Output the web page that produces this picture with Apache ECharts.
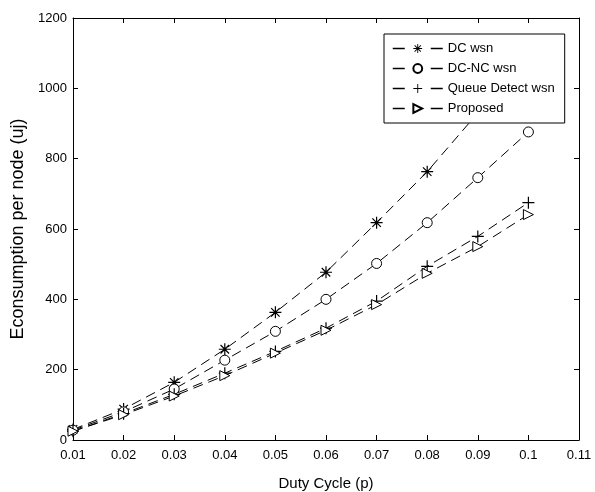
<!DOCTYPE html>
<html>
<head>
<meta charset="utf-8">
<script src="https://cdn.jsdelivr.net/npm/echarts@6/dist/echarts.min.js"></script>
<style>
html,body{margin:0;padding:0;background:#fff;}
#chart{width:595px;height:492px;}
</style>
</head>
<body>
<div id="chart"></div>
<script>
var dutyCycle = [0.01, 0.02, 0.03, 0.04, 0.05, 0.06, 0.07, 0.08, 0.09, 0.10];
var dcWsn     = [30, 88, 164, 258, 363, 477, 618, 763, 930, 1112];
var dcNcWsn   = [28, 80, 145, 227, 309, 400, 502, 618, 746, 876];
var queueWsn  = [25, 75, 130, 190, 252, 318, 395, 494, 579, 675];
var proposed  = [25, 72, 125, 183, 247, 312, 385, 474, 550, 641];
var seriesNames = ['DC wsn', 'DC-NC wsn', 'Queue Detect wsn', 'Proposed'];

function pairs(ys){ return dutyCycle.map(function(x,i){ return [x, ys[i]]; }); }

var STAR = 'path://M-10,-1 L10,-1 L10,1 L-10,1 Z M-1,-10 L1,-10 L1,10 L-1,10 Z M-7.78,-6.36 L-6.36,-7.78 L7.78,6.36 L6.36,7.78 Z M7.78,-6.36 L-6.36,7.78 L-7.78,6.36 L6.36,-7.78 Z';
var PLUS = 'path://M-1,-10 L1,-10 L1,-1 L10,-1 L10,1 L1,1 L1,10 L-1,10 L-1,1 L-10,1 L-10,-1 L-1,-1 Z';
var TRI = 'path://M-8,-8 L8,0 L-8,8 Z';

var FONT = 'Liberation Sans';
var chart = echarts.init(document.getElementById('chart'), null, {renderer:'canvas'});

function mk(name, data, symbol, size, filled){
  return {
    name: name, type: 'line', data: pairs(data),
    symbol: symbol, symbolSize: size, showSymbol: true,
    lineStyle: {color:'#000', width:1, type:[10,6]},
    itemStyle: filled ? {color:'#000', borderWidth:0} : {color:'#fff', borderColor:'#000', borderWidth:1},
    emphasis: {disabled:true},
    animation: false,
    z: 2
  };
}

var tickFmt = function(v){ return parseFloat(v.toFixed(2)).toString(); };
var yFmt = function(v){ return String(Math.round(v)); };

chart.setOption({
  animation: false,
  backgroundColor: '#fff',
  grid: {left:73, right:16, top:18, bottom:52, show:false, containLabel:false, outerBoundsMode:'none'},
  legend: {
    orient: 'vertical', left: 384, top: 34,
    width: 180,
    padding: [8, 10, 8, 8],
    itemWidth: 50, itemHeight: 11, itemGap: 7,
    backgroundColor: '#fff', borderColor: '#000', borderWidth: 1,
    lineStyle: {width: 1.5, type: [12, 26]},
    textStyle: {fontFamily: FONT, fontSize: 13, color: '#000', padding:[0,0,0,0]},
    data: seriesNames,
    z: 10
  },
  xAxis: [{
    type: 'value', min: 0.01, max: 0.11, interval: 0.01,
    name: 'Duty Cycle (p)', nameLocation: 'middle', nameGap: 36,
    nameTextStyle: {fontFamily: FONT, fontSize: 15, color:'#000'},
    axisLine: {show:true, onZero:false, lineStyle:{color:'#000', width:1}},
    axisTick: {show:true, inside:true, length:5, lineStyle:{color:'#000'}},
    axisLabel: {fontFamily: FONT, fontSize: 13, color:'#000', margin: 9, formatter: tickFmt},
    splitLine: {show:false}
  },{
    type: 'value', min: 0.01, max: 0.11, interval: 0.01, position: 'top',
    axisLine: {show:true, onZero:false, lineStyle:{color:'#000', width:1}},
    axisTick: {show:true, inside:true, length:5, lineStyle:{color:'#000'}},
    axisLabel: {show:false}, splitLine: {show:false}
  }],
  yAxis: [{
    type: 'value', min: 0, max: 1200, interval: 200,
    name: 'Econsumption per node (uj)', nameLocation: 'middle', nameGap: 32,
    nameTextStyle: {fontFamily: FONT, fontSize: 18, color:'#000'},
    axisLine: {show:true, onZero:false, lineStyle:{color:'#000', width:1}},
    axisTick: {show:true, inside:true, length:5, lineStyle:{color:'#000'}},
    axisLabel: {fontFamily: FONT, fontSize: 13, color:'#000', margin: 6, formatter: yFmt},
    splitLine: {show:false}
  },{
    type: 'value', min: 0, max: 1200, interval: 200, position: 'right',
    axisLine: {show:true, onZero:false, lineStyle:{color:'#000', width:1}},
    axisTick: {show:true, inside:true, length:5, lineStyle:{color:'#000'}},
    axisLabel: {show:false}, splitLine: {show:false}
  }],
  series: [
    mk(seriesNames[0], dcWsn, STAR, 12, true),
    mk(seriesNames[1], dcNcWsn, 'circle', 10, false),
    mk(seriesNames[2], queueWsn, PLUS, 12, true),
    mk(seriesNames[3], proposed, TRI, 10, false)
  ]
});
</script>
</body>
</html>
